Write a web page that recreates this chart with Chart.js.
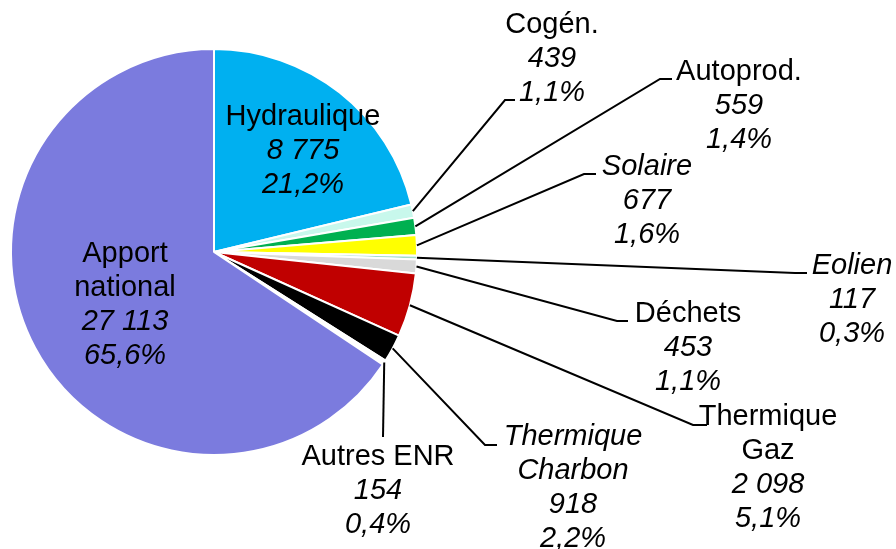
<!DOCTYPE html>
<html>
<head>
<meta charset="utf-8">
<script src="https://cdn.jsdelivr.net/npm/chart.js@4/dist/chart.umd.min.js"></script>
<style>
  html, body { margin: 0; padding: 0; background: #fff; }
</style>
</head>
<body>
<canvas id="chart" width="896" height="549"></canvas>
<script>
const categories = ['Hydraulique', 'Cogén.', 'Autoprod.', 'Solaire', 'Eolien', 'Déchets', 'Thermique Gaz', 'Thermique Charbon', 'Autres ENR', 'Apport national'];
const values = [8775, 439, 559, 677, 117, 453, 2098, 918, 154, 27113];
const nameLines = [['Hydraulique'], ['Cogén.'], ['Autoprod.'], ['Solaire'], ['Eolien'], ['Déchets'], ['Thermique', 'Gaz'], ['Thermique', 'Charbon'], ['Autres ENR'], ['Apport', 'national']];
const nameItalic = [false, false, false, true, true, false, false, true, false, false];

const colors = ['#00B0F0', '#C8F8EC', '#00B050', '#FFFF00', '#A3DCC8', '#D9D9D9', '#C00000', '#000000', '#FFFFFF', '#7B7BDE'];

// label placement: text centre x, first baseline y
const labelPos = [[303, 125], [552, 33], [739, 80], [647, 175], [852, 274], [688, 322], [768, 425], [573, 445], [378, 465], [125, 262]];
// leader elbow: [x, y, end x] (null = label inside the slice)
const elbows = [null, [505, 100, 515], [660, 79, 672], [584, 174, 596], [795, 273, 807], [617, 321, 628], [693, 425, 707], [485, 445, 497], [383, 437, 383], null];

const total = values.reduce((a, b) => a + b, 0);
const fmtNum = v => String(v).replace(/\B(?=(\d{3})+(?!\d))/g, ' ');
const fmtPct = v => (v / total * 100).toFixed(1).replace('.', ',') + '%';

const labelPlugin = {
  id: 'pieLabels',
  afterDatasetsDraw(chart) {
    const ctx = chart.ctx;
    const arcs = chart.getDatasetMeta(0).data;
    ctx.save();
    // leader lines
    ctx.strokeStyle = '#000';
    ctx.lineWidth = 2;
    arcs.forEach((arc, i) => {
      const e = elbows[i];
      if (!e) return;
      const p = arc.getProps(['x', 'y', 'startAngle', 'endAngle', 'outerRadius'], true);
      const mid = (p.startAngle + p.endAngle) / 2;
      const sx = p.x + Math.cos(mid) * p.outerRadius;
      const sy = p.y + Math.sin(mid) * p.outerRadius;
      ctx.beginPath();
      ctx.moveTo(sx, sy);
      ctx.lineTo(e[0], e[1]);
      ctx.lineTo(e[2], e[1]);
      ctx.stroke();
    });
    // texts
    ctx.fillStyle = '#000';
    ctx.textAlign = 'center';
    ctx.textBaseline = 'alphabetic';
    const lh = 34;
    categories.forEach((c, i) => {
      const [x, y] = labelPos[i];
      const lines = [];
      nameLines[i].forEach(t => lines.push([t, nameItalic[i]]));
      lines.push([fmtNum(values[i]), true]);
      lines.push([fmtPct(values[i]), true]);
      lines.forEach((l, k) => {
        ctx.font = (l[1] ? 'italic ' : '') + '29px "Liberation Sans", Arial, sans-serif';
        ctx.fillText(l[0], x, y + k * lh);
      });
    });
    ctx.restore();
  }
};

new Chart(document.getElementById('chart'), {
  type: 'pie',
  data: {
    labels: categories,
    datasets: [{
      data: values,
      backgroundColor: colors,
      borderColor: '#FFFFFF',
      borderWidth: 2
    }]
  },
  options: {
    responsive: false,
    animation: false,
    layout: { padding: { left: 10, top: 48, right: 478, bottom: 93 } },
    plugins: {
      legend: { display: false },
      tooltip: { enabled: false }
    }
  },
  plugins: [labelPlugin]
});
</script>
</body>
</html>
